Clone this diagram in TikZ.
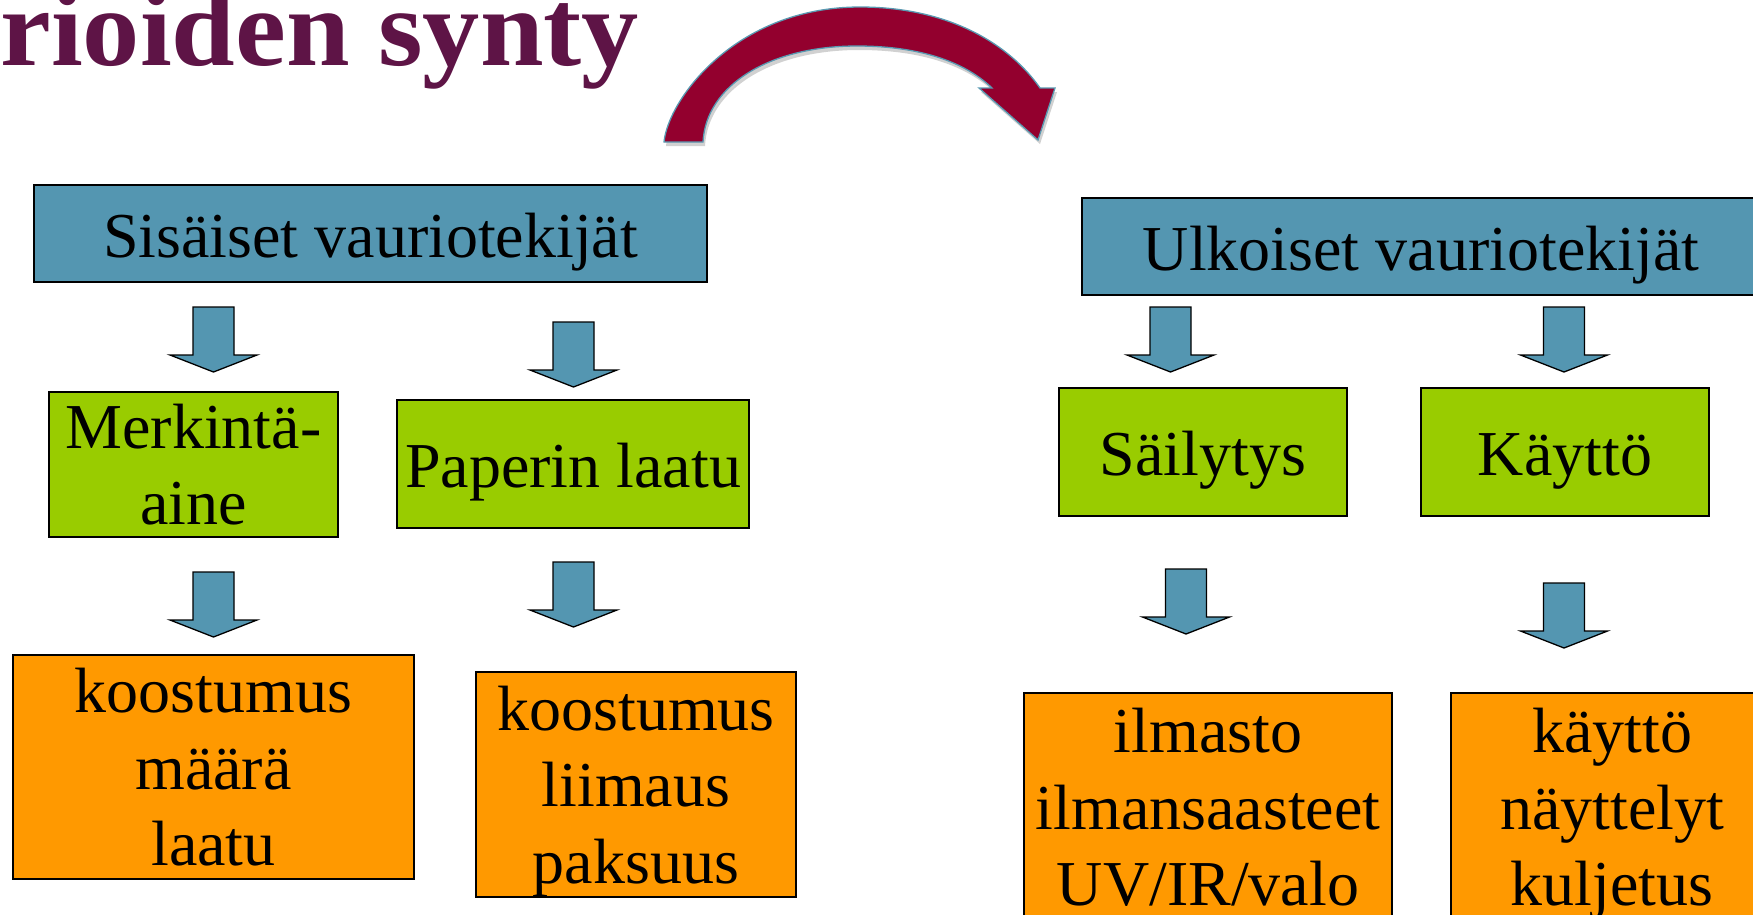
\documentclass[tikz,border=0pt]{standalone}
\usepackage{fontspec}
\setmainfont{Liberation Serif}
\definecolor{boxblue}{HTML}{5496B1}
\definecolor{boxgreen}{HTML}{99CC00}
\definecolor{boxorange}{HTML}{FF9900}
\definecolor{titlecol}{HTML}{5E1446}
\definecolor{arrred}{HTML}{93002E}
\definecolor{arredge}{HTML}{5A9AB2}
\tikzset{
  box/.style={draw=black, line width=1.5pt, inner sep=0pt, align=center,
    font=\fontsize{64}{76.5}\selectfont},
  bluebox/.style={box, fill=boxblue},
  greenbox/.style={box, fill=boxgreen},
  orangebox/.style={box, fill=boxorange},
  oneline/.style={text height=58pt, text depth=11pt},
  blockarrow/.pic={
    \draw[fill=boxblue, draw=black, line width=1.3pt, line join=miter]
      (-20.5,0) -- (20.5,0) -- (20.5,48) -- (43.5,48) -- (0,65)
      -- (-43.5,48) -- (-20.5,48) -- cycle;
  }
}
\begin{document}
\begin{tikzpicture}[x=1pt,y=-1pt]
\useasboundingbox (0,0) rectangle (1753,914);

% title (clipped in the reference)
\node[anchor=base west, inner sep=0pt, text=titlecol, xscale=1.04,
  font=\fontsize{110}{110}\selectfont\bfseries] (title) at (0,65) {rioiden synty};

% curved arrow
\def\curvedarrow{(664,142) .. controls (668,100) and (735,7) .. (860,7)
  .. controls (950,7) and (1010,45) .. (1040,88) -- (1055,88) -- (1038,140)
  -- (979,88) -- (992,88) .. controls (965,62) and (920,46) .. (857,46)
  .. controls (770,46) and (706,85) .. (703,142) -- cycle}
\fill[black, opacity=0.18, xshift=2pt, yshift=-4pt] \curvedarrow;
\draw[fill=arrred, draw=arredge, line width=1.3pt] \curvedarrow;

% boxes
\node[bluebox, oneline, minimum width=673pt, minimum height=97pt] (sis) at (370.5,233.5) {Sisäiset vauriotekijät};
\node[bluebox, oneline, minimum width=678pt, minimum height=97pt] (ulk) at (1421,246.5) {Ulkoiset vauriotekijät};

\node[greenbox, minimum width=289pt, minimum height=145pt] (merk) at (193.5,464.5) {Merkintä-\\aine};
\node[greenbox, oneline, minimum width=352pt, minimum height=128pt] (pap) at (573,464) {Paperin laatu};
\node[greenbox, oneline, minimum width=288pt, minimum height=128pt] (sail) at (1203,452) {Säilytys};
\node[greenbox, oneline, minimum width=288pt, minimum height=128pt] (kay) at (1565,452) {Käyttö};

\node[orangebox, text depth=0pt, minimum width=401pt, minimum height=224pt] (k1) at (213.5,767) {koostumus\\määrä\\laatu};
\node[orangebox, text depth=0pt, minimum width=320pt, minimum height=225pt] (k2) at (636,784.5) {koostumus\\liimaus\\paksuus};
\node[orangebox, text depth=0pt, minimum width=368pt, minimum height=228pt] (ilm) at (1208,807) {ilmasto\\ilmansaasteet\\UV/IR/valo};
\node[orangebox, text depth=0pt, minimum width=322pt, minimum height=228pt] (kay2) at (1612,807) {käyttö\\näyttelyt\\kuljetus};

% block arrows
\pic (a1) at (213.5,307) {blockarrow};
\pic (a2) at (573.5,322) {blockarrow};
\pic (a3) at (213.5,572) {blockarrow};
\pic (a4) at (573.5,562) {blockarrow};
\pic (a5) at (1170.5,307) {blockarrow};
\pic (a6) at (1564,307) {blockarrow};
\pic (a7) at (1186,569) {blockarrow};
\pic (a8) at (1564,583) {blockarrow};
\end{tikzpicture}
\end{document}
